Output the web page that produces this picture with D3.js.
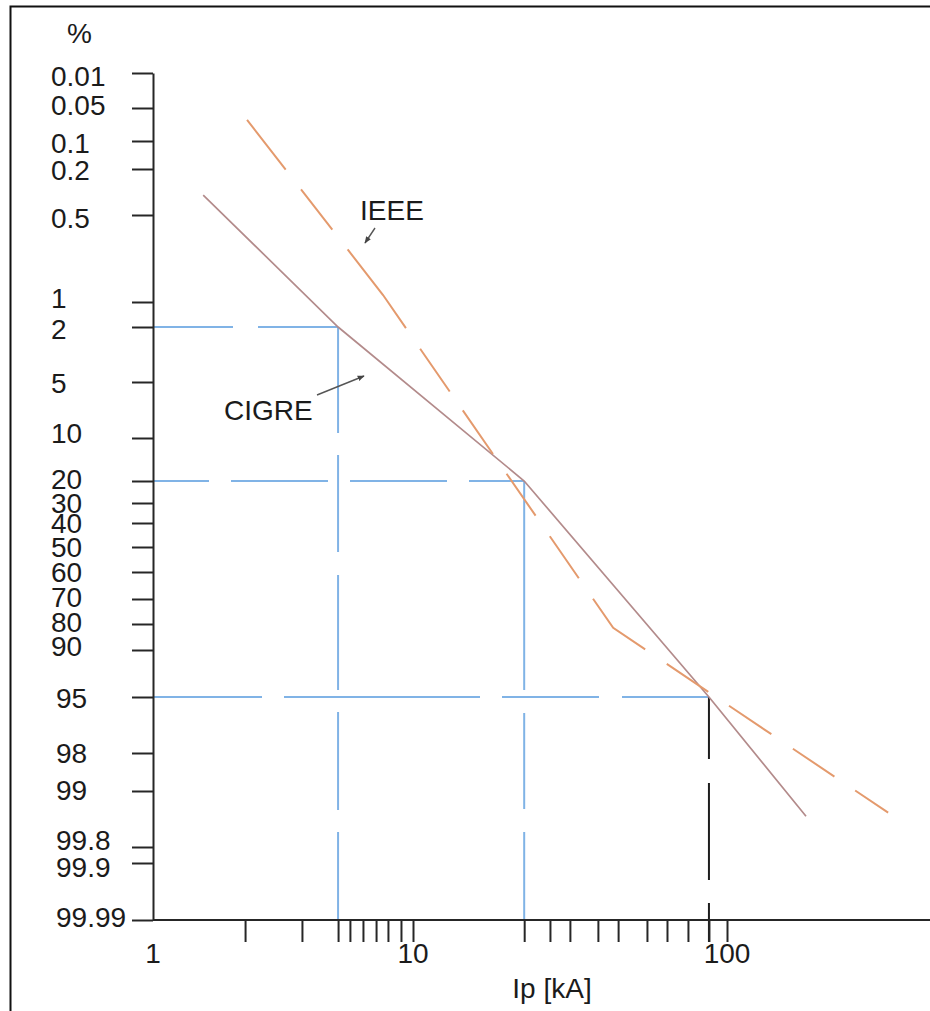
<!DOCTYPE html>
<html><head><meta charset="utf-8">
<script src="https://cdn.jsdelivr.net/npm/d3@7"></script>
<style>
html,body{margin:0;padding:0;background:#fff;}
svg{display:block;}
text{font-family:"Liberation Sans",Arial,sans-serif;fill:#1b1b1b;font-size:28px;}
</style></head><body>
<svg id="chart" width="930" height="1011"></svg>
<script>
// ---------------- data ----------------
const xLabelTicks = [1, 10, 100];
const xMinorTicks = [2.26, 3.74, 5.15, 5.72, 6.42, 7.21, 8.01, 8.99, 10, 22.6, 27.3, 31.6, 38.8, 45.0, 55.6, 64.4, 75.1, 87.6, 100];
const yTickValues = [0.01, 0.05, 0.1, 0.2, 0.5, 1, 2, 5, 10, 20, 30, 40, 50, 60, 70, 80, 90, 95, 98, 99, 99.8, 99.9, 99.99];
const yTickLabels = ["0.01","0.05","0.1","0.2","0.5","1","2","5","10","20","30","40","50","60","70","80","90","95","98","99","99.8","99.9","99.99"];
const cigreIp = [1.56, 5.15, 22.6, 87.6, 178.5];
const cigreP  = [0.37, 2, 20, 95, 99.36];
const ieeeIp  = [2.30, 7.67, 43.4, 326];
const ieeeP   = [0.068, 0.96, 81.5, 99.31];
const guideIp = [5.15, 22.6, 87.6];
const guideP  = [2, 20, 95];

// ---------------- layout (hand-drawn probability paper) ----------------
const W = 930, H = 1011;
const xDecades = [1, 10, 100];
const xDecadePos = [153, 413, 727];
const yGridPos = [73,108,141,169,215,302,327,382,438,481,503,523,547,572,599,624,650,697,753,791,847,863,920];
const yLabelDy = [13,7,12,11,13,6,12,11,5,8,10,10,10,10,8,8,6,11,10,9,3,14,7];
const tickLen = 22;

// ---------------- styles ----------------
const axisColor = "#262626";
const blue = "#80b3e6";
const cigreColor = "#b38b8b";
const ieeeColor = "#e49a6d";
const ieeeDash = "63,25,51,25,98,25,52,23,53,24,51,25,51,25,74,26,50,25,51,26,50,25,40,100";
const hDash = ["80,25", "56,22,97,22,97,22,55", "109,22,196,22,97,23,87"];
const vDash = ["106,22,97,23,115,22,98,22,88", "209,23,96,23,88", "62,24,97,23,39,100"];
const vColor = [blue, blue, "#1e1e1e"];

const svg = d3.select("#chart");
const x = d3.scaleLog().domain(xDecades).range(xDecadePos);
const y = d3.scaleLinear().domain(yTickValues).range(yGridPos);
const y0 = y(yTickValues[yTickValues.length - 1]);   // bottom (x axis)
const x0 = x(xDecades[0]);                            // left (y axis)

// frame
svg.append("path").attr("d", d3.line()([[10.5, H], [10.5, 6.5], [W, 6.5]]))
  .attr("fill", "none").attr("stroke", "#111").attr("stroke-width", 2);

// guide lines (horizontal from axis to point, vertical from point to axis)
guideIp.forEach((ip, i) => {
  const px = x(ip), py = y(guideP[i]);
  svg.append("line").attr("x1", x0).attr("x2", px).attr("y1", py).attr("y2", py)
    .attr("stroke", blue).attr("stroke-width", 2).attr("stroke-dasharray", hDash[i]);
  svg.append("line").attr("x1", px).attr("x2", px).attr("y1", py)
    .attr("y2", i === 2 ? y0 + tickLen : y0)
    .attr("stroke", vColor[i]).attr("stroke-width", 2).attr("stroke-dasharray", vDash[i]);
});

// x axis
const gx = svg.append("g").attr("transform", `translate(0,${y0})`)
  .call(d3.axisBottom(x).tickValues(xMinorTicks).tickSize(tickLen).tickSizeOuter(0).tickFormat(""));
gx.select(".domain").remove();
gx.selectAll(".tick line").attr("stroke", axisColor).attr("stroke-width", 2);
svg.append("line").attr("x1", x0).attr("x2", W).attr("y1", y0).attr("y2", y0)
  .attr("stroke", axisColor).attr("stroke-width", 2);
svg.append("g").selectAll("text").data(xLabelTicks).join("text")
  .attr("x", d => x(d)).attr("y", y0 + 43).attr("text-anchor", "middle").text(d => d);

// y axis
const gy = svg.append("g").attr("transform", `translate(${x0},0)`)
  .call(d3.axisLeft(y).tickValues(yTickValues).tickSize(21).tickSizeOuter(0).tickFormat(""));
gy.select(".domain").attr("stroke", axisColor).attr("stroke-width", 2);
gy.selectAll(".tick line").attr("stroke", axisColor).attr("stroke-width", 2);
svg.append("g").selectAll("text").data(yTickValues).join("text")
  .attr("x", d => d >= 95 ? 56 : 51).attr("y", (d, i) => y(d) + yLabelDy[i])
  .text((d, i) => yTickLabels[i]);

// axis titles
svg.append("text").attr("x", 67).attr("y", 43).text("%");
svg.append("text").attr("x", 552).attr("y", y0 + 78).attr("text-anchor", "middle").text("Ip [kA]");

// curves
const line = d3.line().x(d => x(d[0])).y(d => y(d[1]));
svg.append("path").datum(cigreIp.map((v, i) => [v, cigreP[i]])).attr("d", line)
  .attr("fill", "none").attr("stroke", cigreColor).attr("stroke-width", 1.7);
svg.append("path").datum(ieeeIp.map((v, i) => [v, ieeeP[i]])).attr("d", line)
  .attr("fill", "none").attr("stroke", ieeeColor).attr("stroke-width", 2).attr("stroke-dasharray", ieeeDash);

// annotations
svg.append("defs").append("marker").attr("id", "ah").attr("viewBox", "0 0 10 10")
  .attr("refX", 9).attr("refY", 5).attr("markerWidth", 5).attr("markerHeight", 5)
  .attr("orient", "auto").append("path").attr("d", "M0,1L10,5L0,9z").attr("fill", "#444");
svg.append("text").attr("x", 360).attr("y", 220).text("IEEE");
svg.append("line").attr("x1", 375).attr("y1", 228).attr("x2", 365).attr("y2", 243)
  .attr("stroke", "#555").attr("stroke-width", 1.4).attr("marker-end", "url(#ah)");
svg.append("text").attr("x", 224).attr("y", 420).text("CIGRE");
svg.append("line").attr("x1", 317).attr("y1", 395).attr("x2", 364).attr("y2", 376)
  .attr("stroke", "#555").attr("stroke-width", 1.4).attr("marker-end", "url(#ah)");
</script>
</body></html>
